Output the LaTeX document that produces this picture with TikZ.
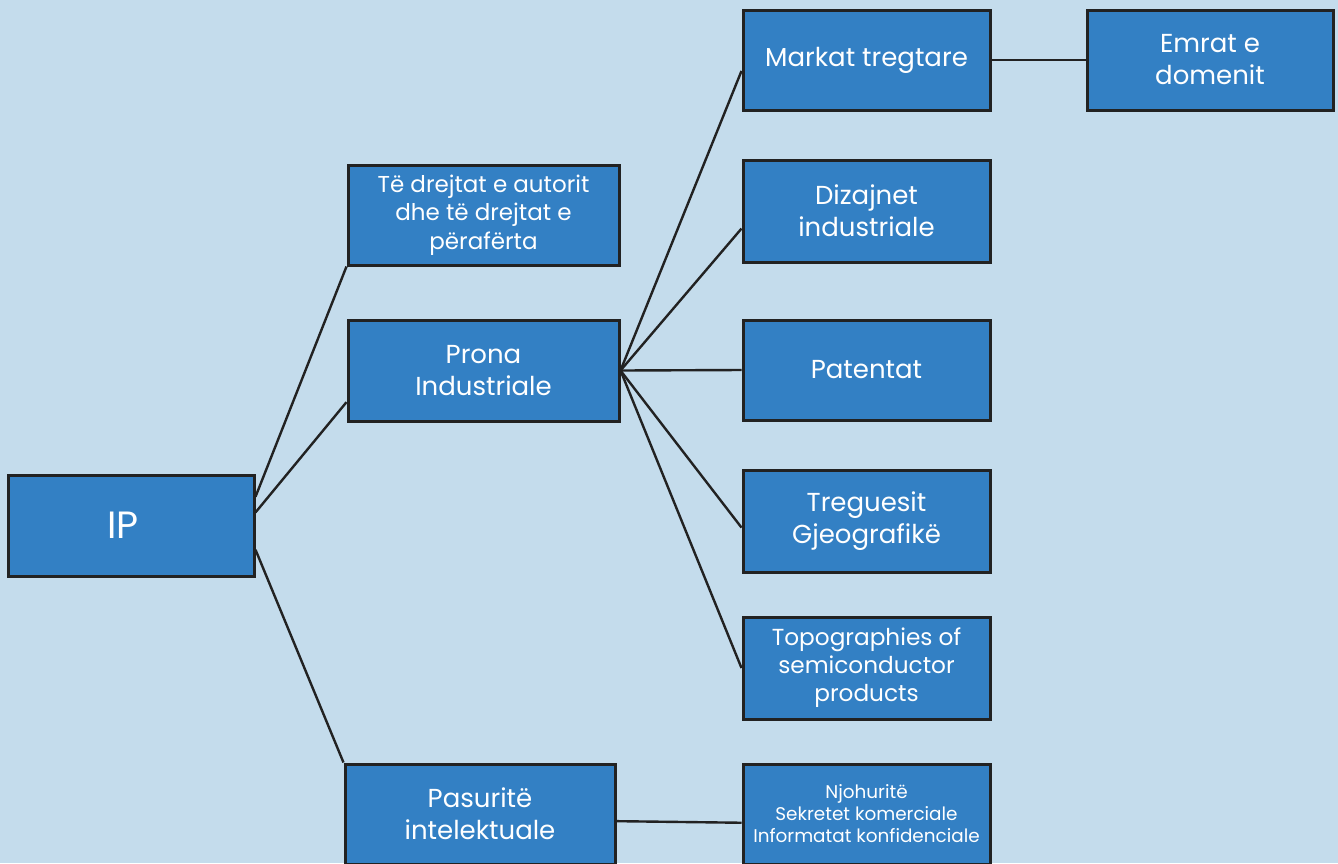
\documentclass[tikz,border=0pt]{standalone}
\usepackage{fontspec}
\setmainfont{Poppins}
\usepackage{tikz}

\definecolor{bgblue}{RGB}{196,220,236}
\definecolor{boxblue}{RGB}{51,128,196}
\definecolor{edgegray}{RGB}{34,34,34}

\begin{document}
\begin{tikzpicture}[x=0.5pt, y=-0.5pt,
  box/.style={draw=edgegray, line width=1.5pt, fill=boxblue, rectangle, text=white,
    align=center, inner sep=2pt, font=\fontsize{13}{16}\selectfont},
  link/.style={draw=edgegray, line width=1.2pt}]
\fill[bgblue] (0,0) rectangle (1338,863);
\clip (0,0) rectangle (1338,863);
\useasboundingbox (0,0) rectangle (1338,863);

\node[box, minimum width=123pt, minimum height=50.5pt, font=\fontsize{19}{22}\selectfont](ip) at (131,525.5) {\hspace{-8pt}IP};

\node[box, minimum width=135.5pt, minimum height=50pt, font=\fontsize{11.5}{14.2}\selectfont](drejtat) at (483.5,215) {T\"e drejtat e autorit\\dhe t\"e drejtat e\\p\"eraf\"erta};
\node[box, minimum width=135.5pt, minimum height=50.5pt](prona) at (483.5,370.5) {Prona\\Industriale};
\node[box, minimum width=135pt, minimum height=50pt](pasurite) at (480,814) {Pasurit\"e\\intelektuale};

\node[box, minimum width=123.5pt, minimum height=50pt](markat) at (866.5,60) {Markat tregtare};
\node[box, minimum width=123.5pt, minimum height=51pt](dizajnet) at (866.5,211) {Dizajnet\\industriale};
\node[box, minimum width=123.5pt, minimum height=50pt](patentat) at (866.5,370) {Patentat};
\node[box, minimum width=123.5pt, minimum height=51pt](treguesit) at (866.5,521) {Treguesit\\Gjeografik\"e};
\node[box, minimum width=123.5pt, minimum height=51pt, font=\fontsize{11.6}{14}\selectfont](topo) at (866.5,668) {Topographies of\\semiconductor\\products};
\node[box, minimum width=123.5pt, minimum height=50pt, font=\fontsize{9.2}{11}\selectfont](njohurite) at (866.5,814) {Njohurit\"e\\Sekretet komerciale\\Informatat konfidenciale};

\node[box, minimum width=123pt, minimum height=50pt](emrat) at (1210,60) {Emrat e\\domenit};

% IP
\draw[link](ip.13) to (drejtat.south west);
\draw[link](ip.6) to (prona.193);
\draw[link](ip.-11) to (pasurite.north west);

% Prona Industriale
\draw[link](prona.east) to (markat.185);
\draw[link](prona.east) to (dizajnet.188);
\draw[link](prona.east) to (patentat.west);
\draw[link](prona.east) to (treguesit.183);
\draw[link](prona.east) to (topo.west);

\draw[link](pasurite.-3) to (njohurite.184);
\draw[link](markat.east) to (emrat.west);
\end{tikzpicture}
\end{document}
